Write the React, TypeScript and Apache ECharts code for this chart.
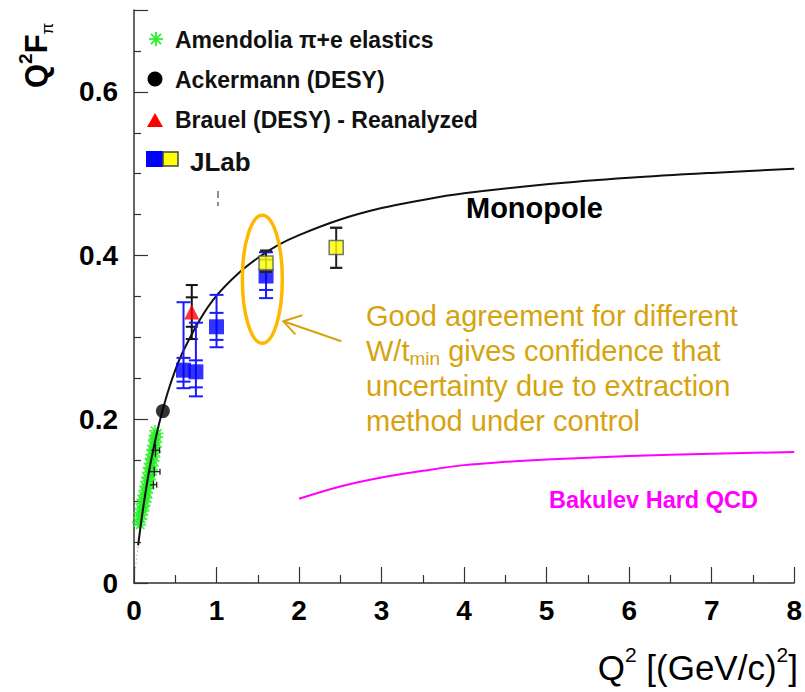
import React, { useEffect, useRef } from "react";
import * as echarts from "echarts";

const FONT = "'Liberation Sans', Arial, Helvetica, sans-serif";

// Amendolia pi+e elastic scattering
const amendoliaQ2 = [
  0.045, 0.075, 0.06, 0.09, 0.065, 0.1, 0.08, 0.115, 0.09, 0.128, 0.1, 0.14, 0.112,
  0.152, 0.125, 0.163, 0.136, 0.174, 0.146, 0.185, 0.157, 0.196, 0.168, 0.207, 0.178,
  0.218, 0.19, 0.228, 0.2, 0.238, 0.21, 0.248, 0.22, 0.258, 0.23, 0.265, 0.24, 0.272,
  0.248, 0.28, 0.255, 0.285, 0.11, 0.13, 0.15, 0.17, 0.19, 0.21, 0.23, 0.245,
];
const amendoliaF = [
  0.074, 0.071, 0.081, 0.078, 0.086, 0.083, 0.091, 0.088, 0.097, 0.094, 0.102, 0.099,
  0.107, 0.104, 0.113, 0.11, 0.118, 0.115, 0.124, 0.121, 0.129, 0.126, 0.135, 0.132,
  0.141, 0.138, 0.146, 0.143, 0.152, 0.149, 0.157, 0.154, 0.163, 0.16, 0.168, 0.166,
  0.174, 0.172, 0.18, 0.178, 0.186, 0.183, 0.093, 0.105, 0.116, 0.128, 0.14, 0.151,
  0.162, 0.176,
];
// a few Amendolia points carry visible black error bars: Q2, F, dQ2, dF
const amendoliaErrQ2 = [0.26, 0.245, 0.235];
const amendoliaErrF = [0.162, 0.136, 0.12];
const amendoliaErrDQ2 = [0.05, 0.07, 0.04];
const amendoliaErrDF = [0.008, 0.006, 0.005];

// Ackermann (DESY)
const ackermannQ2 = [0.35];
const ackermannF = [0.21];

// Brauel (DESY) reanalyzed
const brauelQ2 = [0.7];
const brauelF = [0.331];
const brauelStatLo = [0.313];
const brauelStatHi = [0.349];
const brauelTotLo = [0.298];
const brauelTotHi = [0.364];

// JLab Fpi-1 (blue)
const jlab1Q2 = [0.6, 0.75, 1.0, 1.6];
const jlab1F = [0.26, 0.258, 0.313, 0.375];
const jlab1StatLo = [0.246, 0.239, 0.297, 0.358];
const jlab1StatHi = [0.275, 0.272, 0.33, 0.395];
const jlab1TotLo = [0.238, 0.228, 0.288, 0.348];
const jlab1TotHi = [0.343, 0.318, 0.352, 0.404];

// JLab Fpi-2 (yellow)
const jlab2Q2 = [1.6, 2.45];
const jlab2F = [0.391, 0.41];
const jlab2Lo = [0.38, 0.385];
const jlab2Hi = [0.406, 0.434];

// Monopole curve
const monopoleQ2 = [
  0.05, 0.1, 0.15, 0.2, 0.3, 0.4, 0.5, 0.6, 0.8, 1.0, 1.25, 1.5, 1.75, 2.0, 2.5, 3.0, 3.5,
  4.0, 5.0, 6.0, 7.0, 8.0,
];
const monopoleF = [
  0.046, 0.084, 0.117, 0.146, 0.193, 0.23, 0.26, 0.284, 0.322, 0.351, 0.377, 0.397, 0.413,
  0.425, 0.444, 0.458, 0.468, 0.476, 0.487, 0.495, 0.501, 0.506,
];
const monopoleTailQ2 = [0.012, 0.05];
const monopoleTailF = [0.014, 0.046];

// Bakulev hard QCD curve
const bakulevQ2 = [2.0, 2.5, 3.0, 3.5, 4.0, 4.5, 5.0, 6.0, 7.0, 8.0];
const bakulevF = [0.103, 0.118, 0.129, 0.137, 0.144, 0.148, 0.151, 0.155, 0.158, 0.16];

const xTickLabels = ["0", "1", "2", "3", "4", "5", "6", "7", "8"];
const yTickLabels = ["0", "0.2", "0.4", "0.6"];

const zip = (a: number[], b: number[]) => a.map((v, i) => [v, b[i]]);

const ASTERISK = "path://M0,5L10,5M5,0L5,10M1.5,1.5L8.5,8.5M8.5,1.5L1.5,8.5";

// error bar: vertical line over all cap values, with a horizontal cap at each one
const makeErrorRender = (color: string, capHalf: number, width: number) =>
  (params: any, api: any) => {
    const x = api.value(0);
    const caps = [api.value(1), api.value(2), api.value(3), api.value(4)];
    const lo = Math.min(...caps);
    const hi = Math.max(...caps);
    const pLo = api.coord([x, lo]);
    const pHi = api.coord([x, hi]);
    const children: any[] = [
      {
        type: "line",
        shape: { x1: pLo[0], y1: pLo[1], x2: pHi[0], y2: pHi[1] },
        style: { stroke: color, lineWidth: width },
      },
    ];
    caps.forEach((c) => {
      const p = api.coord([x, c]);
      children.push({
        type: "line",
        shape: { x1: p[0] - capHalf, y1: p[1], x2: p[0] + capHalf, y2: p[1] },
        style: { stroke: color, lineWidth: width },
      });
    });
    return { type: "group", children };
  };

const crossRender = (params: any, api: any) => {
  const x = api.value(0);
  const y = api.value(1);
  const dx = api.value(2);
  const dy = api.value(3);
  const a = api.coord([x - dx, y]);
  const b = api.coord([x + dx, y]);
  const c = api.coord([x, y - dy]);
  const d = api.coord([x, y + dy]);
  const st = { stroke: "#222", lineWidth: 1.3 };
  return {
    type: "group",
    children: [
      { type: "line", shape: { x1: a[0], y1: a[1], x2: b[0], y2: b[1] }, style: st },
      { type: "line", shape: { x1: c[0], y1: c[1], x2: d[0], y2: d[1] }, style: st },
      { type: "line", shape: { x1: b[0], y1: b[1] - 3, x2: b[0], y2: b[1] + 3 }, style: st },
    ],
  };
};

const GOLD_TEXT = "#D6A30F";
const GOLD_RING = "#FFB800";

export default function App() {
  const ref = useRef<HTMLDivElement>(null);

  useEffect(() => {
    if (!ref.current) return;
    const chart = echarts.init(ref.current, undefined, { renderer: "svg" });

    const axisColor = "#333";
    const option: any = {
      animation: false,
      backgroundColor: "#fff",
      grid: { left: 134, right: 8, top: 10, bottom: 109, containLabel: false },
      xAxis: {
        type: "value",
        min: 0,
        max: 8,
        interval: 1,
        axisLine: { show: true, onZero: false, lineStyle: { color: axisColor, width: 1.5 } },
        axisTick: { show: true, inside: true, length: 16, lineStyle: { color: axisColor, width: 1.2 } },
        minorTick: { show: true, splitNumber: 2, length: 8, lineStyle: { color: axisColor, width: 1.2 } },
        splitLine: { show: false },
        axisLabel: {
          margin: 13,
          color: "#000",
          fontFamily: FONT,
          fontWeight: "bold",
          fontSize: 28,
          formatter: (v: number) => xTickLabels[Math.round(v)] ?? "",
        },
      },
      yAxis: {
        type: "value",
        min: 0,
        max: 0.7,
        interval: 0.2,
        axisLine: { show: true, onZero: false, lineStyle: { color: axisColor, width: 1.5 } },
        axisTick: { show: true, inside: true, length: 14, lineStyle: { color: axisColor, width: 1.2 } },
        minorTick: { show: true, splitNumber: 4, length: 7, lineStyle: { color: axisColor, width: 1.2 } },
        splitLine: { show: false },
        axisLabel: {
          margin: 16,
          color: "#000",
          fontFamily: FONT,
          fontWeight: "bold",
          fontSize: 28,
          showMaxLabel: false,
          formatter: (v: number) => {
            const i = Math.round(v / 0.2);
            return Math.abs(v - i * 0.2) < 1e-6 ? yTickLabels[i] ?? "" : "";
          },
        },
      },
      series: [
        {
          name: "Amendolia",
          type: "scatter",
          data: zip(amendoliaQ2, amendoliaF),
          symbol: ASTERISK,
          symbolSize: 12,
          itemStyle: { color: "rgba(0,0,0,0)", borderColor: "#28f028", borderWidth: 1.6 },
          z: 2,
        },
        {
          name: "Amendolia errors",
          type: "custom",
          renderItem: crossRender,
          data: amendoliaErrQ2.map((q, i) => [q, amendoliaErrF[i], amendoliaErrDQ2[i], amendoliaErrDF[i]]),
          encode: { x: 0, y: 1 },
          z: 3,
        },
        {
          name: "Monopole tail",
          type: "line",
          data: zip(monopoleTailQ2, monopoleTailF),
          showSymbol: false,
          lineStyle: { color: "#999", width: 1.2, type: [1, 3] },
          z: 3,
        },
        {
          name: "Monopole",
          type: "line",
          data: zip(monopoleQ2, monopoleF),
          smooth: 0.35,
          showSymbol: false,
          lineStyle: { color: "#111", width: 2 },
          z: 4,
        },
        {
          name: "Bakulev Hard QCD",
          type: "line",
          data: zip(bakulevQ2, bakulevF),
          smooth: 0.35,
          showSymbol: false,
          lineStyle: { color: "#FF00FF", width: 2 },
          z: 4,
        },
        {
          name: "Brauel errors",
          type: "custom",
          renderItem: makeErrorRender("#111", 6, 2),
          data: brauelQ2.map((q, i) => [q, brauelStatLo[i], brauelStatHi[i], brauelTotLo[i], brauelTotHi[i]]),
          encode: { x: 0, y: [1, 2, 3, 4] },
          z: 5,
        },
        {
          name: "JLab errors",
          type: "custom",
          renderItem: makeErrorRender("#1a1aff", 7, 2),
          data: jlab1Q2.map((q, i) => [q, jlab1StatLo[i], jlab1StatHi[i], jlab1TotLo[i], jlab1TotHi[i]]),
          encode: { x: 0, y: [1, 2, 3, 4] },
          z: 5,
        },
        {
          name: "Ackermann (DESY)",
          type: "scatter",
          data: zip(ackermannQ2, ackermannF),
          symbol: "circle",
          symbolSize: 14,
          itemStyle: { color: "#000" },
          z: 6,
        },
        {
          name: "Brauel (DESY) - Reanalyzed",
          type: "scatter",
          data: zip(brauelQ2, brauelF),
          symbol: "triangle",
          symbolSize: 15,
          itemStyle: { color: "#FF0000" },
          z: 6,
        },
        {
          name: "JLab",
          type: "scatter",
          data: zip(jlab1Q2, jlab1F),
          symbol: "rect",
          symbolSize: 15,
          itemStyle: { color: "#0000FF" },
          z: 6,
        },
        {
          name: "JLab 2 errors",
          type: "custom",
          renderItem: makeErrorRender("#222", 6, 2),
          data: jlab2Q2.map((q, i) => [q, jlab2Lo[i], jlab2Hi[i], jlab2Lo[i], jlab2Hi[i]]),
          encode: { x: 0, y: [1, 2, 3, 4] },
          z: 7,
        },
        {
          name: "JLab 2",
          type: "scatter",
          data: zip(jlab2Q2, jlab2F),
          symbol: "rect",
          symbolSize: 14,
          itemStyle: { color: "#FFFF00", borderColor: "#555", borderWidth: 1.5 },
          z: 8,
        },
      ],
    };
    chart.setOption(option);

    // annotation anchored to the data coordinates of the Q2 = 1.6 points
    const c = chart.convertToPixel({ gridIndex: 0 }, [1.555, 0.371]) as number[];
    const tip = [c[0] + 21, c[1] + 42];
    const tail = [tip[0] + 58, tip[1] + 20];

    const ast = (cx: number, cy: number, r: number) => ({
      type: "group",
      children: [
        [-r, 0, r, 0],
        [0, -r, 0, r],
        [-r * 0.72, -r * 0.72, r * 0.72, r * 0.72],
        [r * 0.72, -r * 0.72, -r * 0.72, r * 0.72],
      ].map((s) => ({
        type: "line",
        shape: { x1: cx + s[0], y1: cy + s[1], x2: cx + s[2], y2: cy + s[3] },
        style: { stroke: "#28f028", lineWidth: 1.8 },
      })),
    });

    const legendText = (x: number, y: number, text: string, size = 23) => ({
      type: "text",
      x,
      y,
      style: {
        text,
        fill: "#111",
        font: `bold ${size}px ${FONT}`,
        align: "left",
        verticalAlign: "middle",
      },
    });

    chart.setOption({
      graphic: [
        // legend
        ast(156, 39, 7),
        legendText(175, 40, "Amendolia \u03c0+e elastics"),
        { type: "circle", shape: { cx: 155, cy: 79, r: 7.5 }, style: { fill: "#000" } },
        legendText(175, 80, "Ackermann (DESY)"),
        {
          type: "polygon",
          shape: { points: [[155, 113], [163, 127], [147, 127]] },
          style: { fill: "#FF0000" },
        },
        legendText(175, 120, "Brauel (DESY) - Reanalyzed"),
        { type: "rect", shape: { x: 146, y: 151, width: 17, height: 16 }, style: { fill: "#0000FF" } },
        {
          type: "rect",
          shape: { x: 163, y: 152, width: 15, height: 14 },
          style: { fill: "#FFFF00", stroke: "#444", lineWidth: 1.5 },
        },
        legendText(190, 162, "JLab", 26),
        // small marks
        { type: "line", shape: { x1: 218, y1: 191, x2: 218, y2: 198 }, style: { stroke: "#444", lineWidth: 1.2 } },
        { type: "line", shape: { x1: 218, y1: 202, x2: 218, y2: 206 }, style: { stroke: "#444", lineWidth: 1.2 } },
        // curve labels
        {
          type: "text",
          x: 466,
          y: 208,
          style: { text: "Monopole", fill: "#000", font: `bold 29px ${FONT}`, align: "left", verticalAlign: "middle" },
        },
        {
          type: "text",
          x: 549,
          y: 500,
          style: { text: "Bakulev Hard QCD", fill: "#FF00FF", font: `bold 23.5px ${FONT}`, align: "left", verticalAlign: "middle" },
        },
        // annotation
        {
          type: "ellipse",
          shape: { cx: c[0], cy: c[1], rx: 20, ry: 64 },
          style: { fill: "none", stroke: GOLD_RING, lineWidth: 3.5 },
          z: 20,
        },
        {
          type: "line",
          shape: { x1: tail[0], y1: tail[1], x2: tip[0], y2: tip[1] },
          style: { stroke: GOLD_TEXT, lineWidth: 2 },
          z: 20,
        },
        {
          type: "polyline",
          shape: { points: [[tip[0] + 19, tip[1] - 6], tip, [tip[0] + 12, tip[1] + 13]] },
          style: { stroke: GOLD_TEXT, lineWidth: 2, fill: "none" },
          z: 20,
        },
        {
          type: "text",
          x: 366,
          y: 298,
          z: 20,
          style: {
            text:
              "{a|Good agreement for different}\n{a|W/t}{s|min}{a| gives confidence that}\n{a|uncertainty due to extraction}\n{a|method under control}",
            fill: GOLD_TEXT,
            align: "left",
            verticalAlign: "top",
            rich: {
              a: { fontFamily: FONT, fontSize: 29, lineHeight: 35, fill: GOLD_TEXT, color: GOLD_TEXT },
              s: {
                fontFamily: FONT,
                fontSize: 19,
                lineHeight: 35,
                fill: GOLD_TEXT,
                color: GOLD_TEXT,
                verticalAlign: "bottom",
              },
            },
          },
        },
        // axis titles
        {
          type: "text",
          x: 36,
          y: 88,
          rotation: Math.PI / 2,
          style: {
            text: "{q|Q}{p|2}{q|F}{b|\u03c0}",
            align: "left",
            verticalAlign: "middle",
            rich: {
              q: { fontFamily: FONT, fontWeight: "bold", fontSize: 31, lineHeight: 40, fill: "#000", color: "#000" },
              p: { fontFamily: FONT, fontWeight: "bold", fontSize: 19, lineHeight: 40, verticalAlign: "top", fill: "#000", color: "#000" },
              b: { fontFamily: FONT, fontSize: 17, lineHeight: 40, verticalAlign: "bottom", fill: "#000", color: "#000" },
            },
          },
        },
        {
          type: "text",
          x: 798,
          y: 667,
          style: {
            text: "{q|Q}{p|2}{q| [(GeV/c)}{p|2}{q|]}",
            align: "right",
            verticalAlign: "middle",
            rich: {
              q: { fontFamily: FONT, fontSize: 35, lineHeight: 46, fill: "#000", color: "#000" },
              p: { fontFamily: FONT, fontSize: 21, lineHeight: 46, verticalAlign: "top", fill: "#000", color: "#000" },
            },
          },
        },
      ],
    });

    return () => chart.dispose();
  }, []);

  return (
    <div
      ref={ref}
      style={{ position: "fixed", left: 0, top: 0, width: 805, height: 692 }}
    />
  );
}
